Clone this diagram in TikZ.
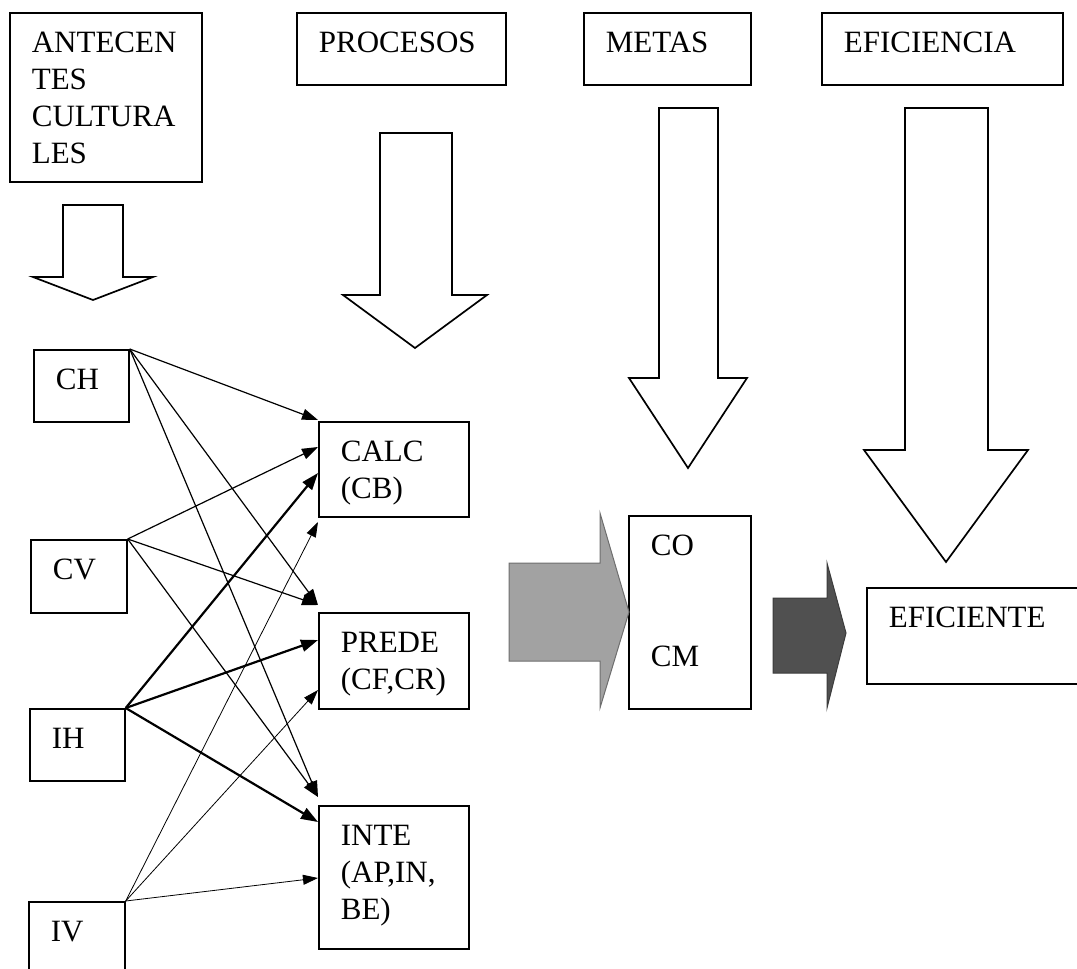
\documentclass[tikz,border=0pt]{standalone}
\usepackage{fontspec}
\setmainfont{Liberation Serif}
\usetikzlibrary{arrows.meta}

\begin{document}
\begin{tikzpicture}[x=1pt, y=-1pt,
		caja/.style={draw, line width=1.7pt, anchor=north west, align=left, inner xsep=22pt, inner ysep=0pt, text height=40pt, font=\fontsize{31}{37}\selectfont},
		bloque/.style={draw, line width=1.7pt, fill=white, line join=miter},
		flecha/.style={line width=1.2pt, -{Triangle[length=16pt, width=11pt]}},
		flecha gruesa/.style={line width=2.2pt, -{Triangle[length=17pt, width=12pt]}},
		flecha fina/.style={line width=0.8pt, -{Triangle[length=15pt, width=10pt]}}]
		\useasboundingbox ( 0, 0 ) rectangle ( 1077, 969 );

		% encabezados
		\node [caja, text width=148pt, text depth=129pt] (antec) at ( 9, 12 ) {ANTECEN\\TES\\CULTURA\\LES};
		\node [caja, text width=165pt, text depth=32pt] (procesos) at ( 296, 12 ) {PROCESOS};
		\node [caja, text width=123pt, text depth=32pt] (metas) at ( 583, 12 ) {METAS};
		\node [caja, text width=197pt, text depth=32pt] (eficiencia) at ( 821, 12 ) {EFICIENCIA};

		% flechas huecas
		\draw [bloque] ( 63, 205 ) -- ( 123, 205 ) -- ( 123, 277 ) -- ( 153, 277 ) -- ( 93, 300 ) -- ( 33, 277 ) -- ( 63, 277 ) -- cycle;
		\draw [bloque] ( 380, 133 ) -- ( 452, 133 ) -- ( 452, 295 ) -- ( 487, 295 ) -- ( 415, 348 ) -- ( 343, 295 ) -- ( 380, 295 ) -- cycle;
		\draw [bloque] ( 659, 108 ) -- ( 718, 108 ) -- ( 718, 378 ) -- ( 747, 378 ) -- ( 688, 468 ) -- ( 629, 378 ) -- ( 659, 378 ) -- cycle;
		\draw [bloque] ( 905, 108 ) -- ( 988, 108 ) -- ( 988, 450 ) -- ( 1028, 450 ) -- ( 946, 562 ) -- ( 864, 450 ) -- ( 905, 450 ) -- cycle;

		% antecedentes
		\node [caja, text width=51pt, text depth=32pt] (ch) at ( 33, 349 ) {CH};
		\node [caja, text width=52pt, text depth=33pt] (cv) at ( 30, 539 ) {CV};
		\node [caja, text width=51pt, text depth=32pt] (ih) at ( 29, 708 ) {IH};
		\node [caja, text width=52pt, text depth=100pt] (iv) at ( 28, 901 ) {IV};

		% procesos
		\node [caja, text width=106pt, text depth=55pt] (calc) at ( 318, 421 ) {CALC\\(CB)};
		\node [caja, text width=106pt, text depth=56pt] (prede) at ( 318, 612 ) {PREDE\\(CF,CR)};
		\node [caja, text width=106pt, text depth=103pt] (inte) at ( 318, 805 ) {INTE\\(AP,IN,\\BE)};

		% metas y eficiencia
		\node [caja, text width=78pt, text depth=153pt] (co) at ( 628, 515 ) {CO\\[74pt]CM};
		\node [caja, text width=196pt, text depth=56pt] (eficiente) at ( 866, 587 ) {EFICIENTE};

		% flechas grises
		\draw [fill={rgb,255:red,162;green,162;blue,162}, draw={rgb,255:red,110;green,110;blue,110}, line width=1pt] ( 509, 563 ) -- ( 600, 563 ) -- ( 600, 513 ) -- ( 629, 612 ) -- ( 600, 708 ) -- ( 600, 661 ) -- ( 509, 661 ) -- cycle;
		\draw [fill={rgb,255:red,80;green,80;blue,80}, draw={rgb,255:red,60;green,60;blue,60}, line width=1pt] ( 773, 598 ) -- ( 827, 598 ) -- ( 827, 563 ) -- ( 846, 633 ) -- ( 827, 708 ) -- ( 827, 673 ) -- ( 773, 673 ) -- cycle;

		% CH
		\draw [flecha] (ch.north east) -- ([yshift=1pt]calc.north west);
		\draw [flecha] (ch.north east) -- ([yshift=7pt]prede.north west);
		\draw [flecha] (ch.north east) -- ([yshift=8pt]inte.north west);

		% CV
		\draw [flecha] (cv.north east) -- ([yshift=-26pt]calc.north west);
		\draw [flecha] (cv.north east) -- ([yshift=7pt]prede.north west);
		\draw [flecha] (cv.north east) -- ([yshift=8pt]inte.north west);

		% IH
		\draw [flecha gruesa] (ih.north east) -- ([yshift=-52pt]calc.north west);
		\draw [flecha gruesa] (ih.north east) -- ([yshift=-28pt]prede.north west);
		\draw [flecha gruesa] (ih.north east) -- ([yshift=-17pt]inte.north west);

		% IV
		\draw [flecha fina] (iv.north east) -- ([yshift=-101pt]calc.north west);
		\draw [flecha fina] (iv.north east) -- ([yshift=-78pt]prede.north west);
		\draw [flecha fina] (iv.north east) -- ([yshift=-73pt]inte.north west);
	\end{tikzpicture}
\end{document}
